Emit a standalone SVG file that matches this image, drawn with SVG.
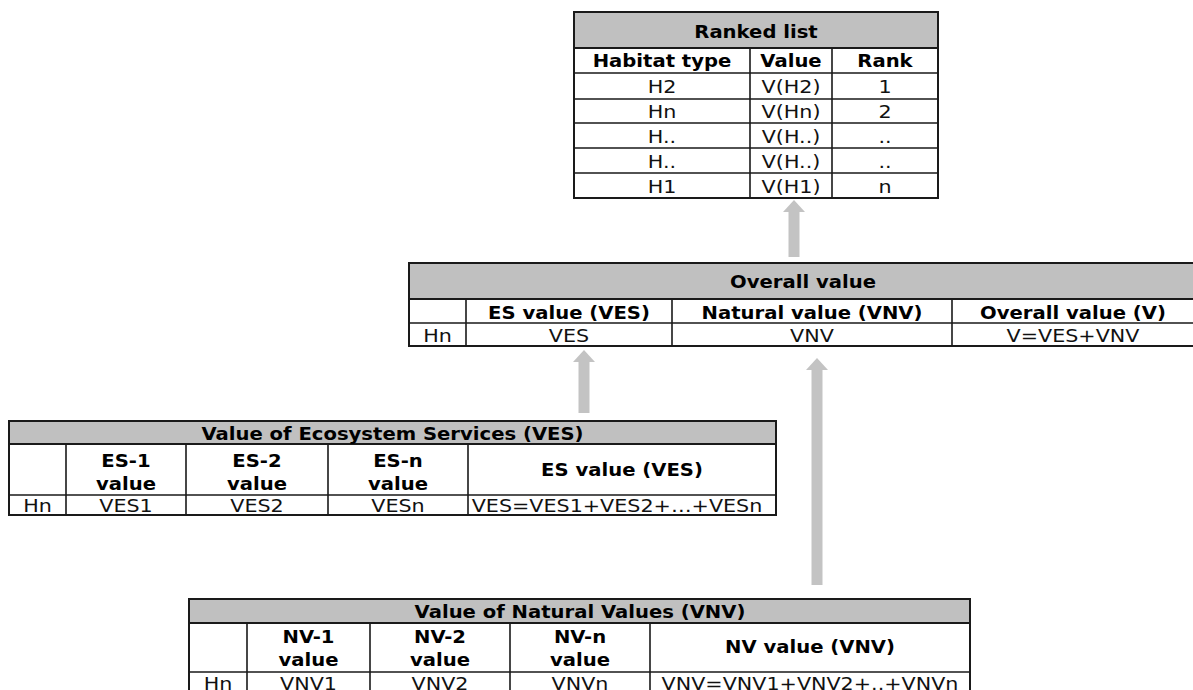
<svg xmlns="http://www.w3.org/2000/svg" width="1193" height="690" viewBox="0 0 1193 690">
  <style>
    .frame { fill: #ffffff; stroke: #1a1a1a; stroke-width: 2; }
    .head { fill: #c0c0c0; stroke: #1a1a1a; stroke-width: 2; }
    .grid { stroke: #1a1a1a; stroke-width: 1.6; fill: none; }
    .b { font-family: "DejaVu Sans", Verdana, sans-serif; font-weight: bold; font-size: 18px; fill: #000; text-anchor: middle; }
    .r { font-family: "DejaVu Sans", Verdana, sans-serif; font-size: 18.3px; fill: #111; text-anchor: middle; }
    .flow { stroke: #c3c3c3; stroke-width: 11; fill: none; }
  </style>
  <defs>
    <marker id="head" viewBox="0 0 12 22" markerWidth="12" markerHeight="22" refX="0" refY="11" orient="auto" markerUnits="userSpaceOnUse">
      <path d="M0,0 L12,11 L0,22 z" fill="#c3c3c3"/>
    </marker>
  </defs>

  <rect width="1193" height="690" fill="#ffffff"/>

  <!-- connectors: gray block arrows pointing upward -->
  <g id="connectors">
    <line class="flow" x1="794" y1="257" x2="794" y2="212" marker-end="url(#head)"/>
    <line class="flow" x1="584" y1="413" x2="584" y2="362" marker-end="url(#head)"/>
    <line class="flow" x1="817" y1="585" x2="817" y2="370" marker-end="url(#head)"/>
  </g>

  <!-- ranked list (text is widened slightly with a horizontal scale) -->
  <g id="ranked-list">
    <rect class="frame" x="574" y="12" width="364" height="186"/>
    <rect class="head" x="574" y="12" width="364" height="36"/>
    <path class="grid" d="M574,73H938 M574,99H938 M574,123H938 M574,148H938 M574,173H938 M750,48V198 M832,48V198"/>
    <text class="b" transform="translate(756,38) scale(1.09,1)">Ranked list</text>
    <text class="b" transform="translate(662,67) scale(1.09,1)">Habitat type</text>
    <text class="b" transform="translate(791,67) scale(1.09,1)">Value</text>
    <text class="b" transform="translate(885,67) scale(1.09,1)">Rank</text>
    <text class="r" transform="translate(662,93) scale(1.13,1)">H2</text>
    <text class="r" transform="translate(791,93) scale(1.13,1)">V(H2)</text>
    <text class="r" transform="translate(885,93) scale(1.13,1)">1</text>
    <text class="r" transform="translate(662,118) scale(1.13,1)">Hn</text>
    <text class="r" transform="translate(791,118) scale(1.13,1)">V(Hn)</text>
    <text class="r" transform="translate(885,118) scale(1.13,1)">2</text>
    <text class="r" transform="translate(662,143) scale(1.13,1)">H..</text>
    <text class="r" transform="translate(791,143) scale(1.13,1)">V(H..)</text>
    <text class="r" transform="translate(885,143) scale(1.13,1)">..</text>
    <text class="r" transform="translate(662,168) scale(1.13,1)">H..</text>
    <text class="r" transform="translate(791,168) scale(1.13,1)">V(H..)</text>
    <text class="r" transform="translate(885,168) scale(1.13,1)">..</text>
    <text class="r" transform="translate(662,193) scale(1.13,1)">H1</text>
    <text class="r" transform="translate(791,193) scale(1.13,1)">V(H1)</text>
    <text class="r" transform="translate(885,193) scale(1.13,1)">n</text>
  </g>

  <!-- overall value -->
  <g id="overall-value">
    <rect class="frame" x="409" y="263" width="790" height="83"/>
    <rect class="head" x="409" y="263" width="790" height="36"/>
    <path class="grid" d="M409,323H1199 M466,299V346 M672,299V346 M952,299V346"/>
    <text class="b" transform="translate(803,288) scale(1.09,1)">Overall value</text>
    <text class="b" transform="translate(569,319) scale(1.09,1)">ES value (VES)</text>
    <text class="b" transform="translate(812,319) scale(1.09,1)">Natural value (VNV)</text>
    <text class="b" transform="translate(1073,319) scale(1.09,1)">Overall value (V)</text>
    <text class="r" transform="translate(437.5,342) scale(1.13,1)">Hn</text>
    <text class="r" transform="translate(569,342) scale(1.13,1)">VES</text>
    <text class="r" transform="translate(812,342) scale(1.13,1)">VNV</text>
    <text class="r" transform="translate(1073,342) scale(1.13,1)">V=VES+VNV</text>
  </g>

  <!-- value of ecosystem services -->
  <g id="ecosystem-services">
    <rect class="frame" x="9" y="421" width="767" height="94"/>
    <rect class="head" x="9" y="421" width="767" height="23"/>
    <path class="grid" d="M9,495H776 M66,444V515 M186,444V515 M328,444V515 M468,444V515"/>
    <text class="b" transform="translate(392.5,440) scale(1.09,1)">Value of Ecosystem Services (VES)</text>
    <text class="b" transform="translate(126,467) scale(1.09,1)">ES-1</text>
    <text class="b" transform="translate(126,490) scale(1.09,1)">value</text>
    <text class="b" transform="translate(257,467) scale(1.09,1)">ES-2</text>
    <text class="b" transform="translate(257,490) scale(1.09,1)">value</text>
    <text class="b" transform="translate(398,467) scale(1.09,1)">ES-n</text>
    <text class="b" transform="translate(398,490) scale(1.09,1)">value</text>
    <text class="b" transform="translate(622,476) scale(1.09,1)">ES value (VES)</text>
    <text class="r" transform="translate(37.5,512) scale(1.13,1)">Hn</text>
    <text class="r" transform="translate(126,512) scale(1.13,1)">VES1</text>
    <text class="r" transform="translate(257,512) scale(1.13,1)">VES2</text>
    <text class="r" transform="translate(398,512) scale(1.13,1)">VESn</text>
    <text class="r" transform="translate(617,512) scale(1.13,1)">VES=VES1+VES2+…+VESn</text>
  </g>

  <!-- value of natural values -->
  <g id="natural-values">
    <rect class="frame" x="189" y="599" width="781" height="100"/>
    <rect class="head" x="189" y="599" width="781" height="24"/>
    <path class="grid" d="M189,672H970 M247,623V699 M370,623V699 M510,623V699 M650,623V699"/>
    <text class="b" transform="translate(580,618) scale(1.09,1)">Value of Natural Values (VNV)</text>
    <text class="b" transform="translate(308.5,643) scale(1.09,1)">NV-1</text>
    <text class="b" transform="translate(308.5,666) scale(1.09,1)">value</text>
    <text class="b" transform="translate(440,643) scale(1.09,1)">NV-2</text>
    <text class="b" transform="translate(440,666) scale(1.09,1)">value</text>
    <text class="b" transform="translate(580,643) scale(1.09,1)">NV-n</text>
    <text class="b" transform="translate(580,666) scale(1.09,1)">value</text>
    <text class="b" transform="translate(810,653) scale(1.09,1)">NV value (VNV)</text>
    <text class="r" transform="translate(218,690) scale(1.13,1)">Hn</text>
    <text class="r" transform="translate(308.5,690) scale(1.13,1)">VNV1</text>
    <text class="r" transform="translate(440,690) scale(1.13,1)">VNV2</text>
    <text class="r" transform="translate(580,690) scale(1.13,1)">VNVn</text>
    <text class="r" transform="translate(810,690) scale(1.13,1)">VNV=VNV1+VNV2+..+VNVn</text>
  </g>
</svg>
